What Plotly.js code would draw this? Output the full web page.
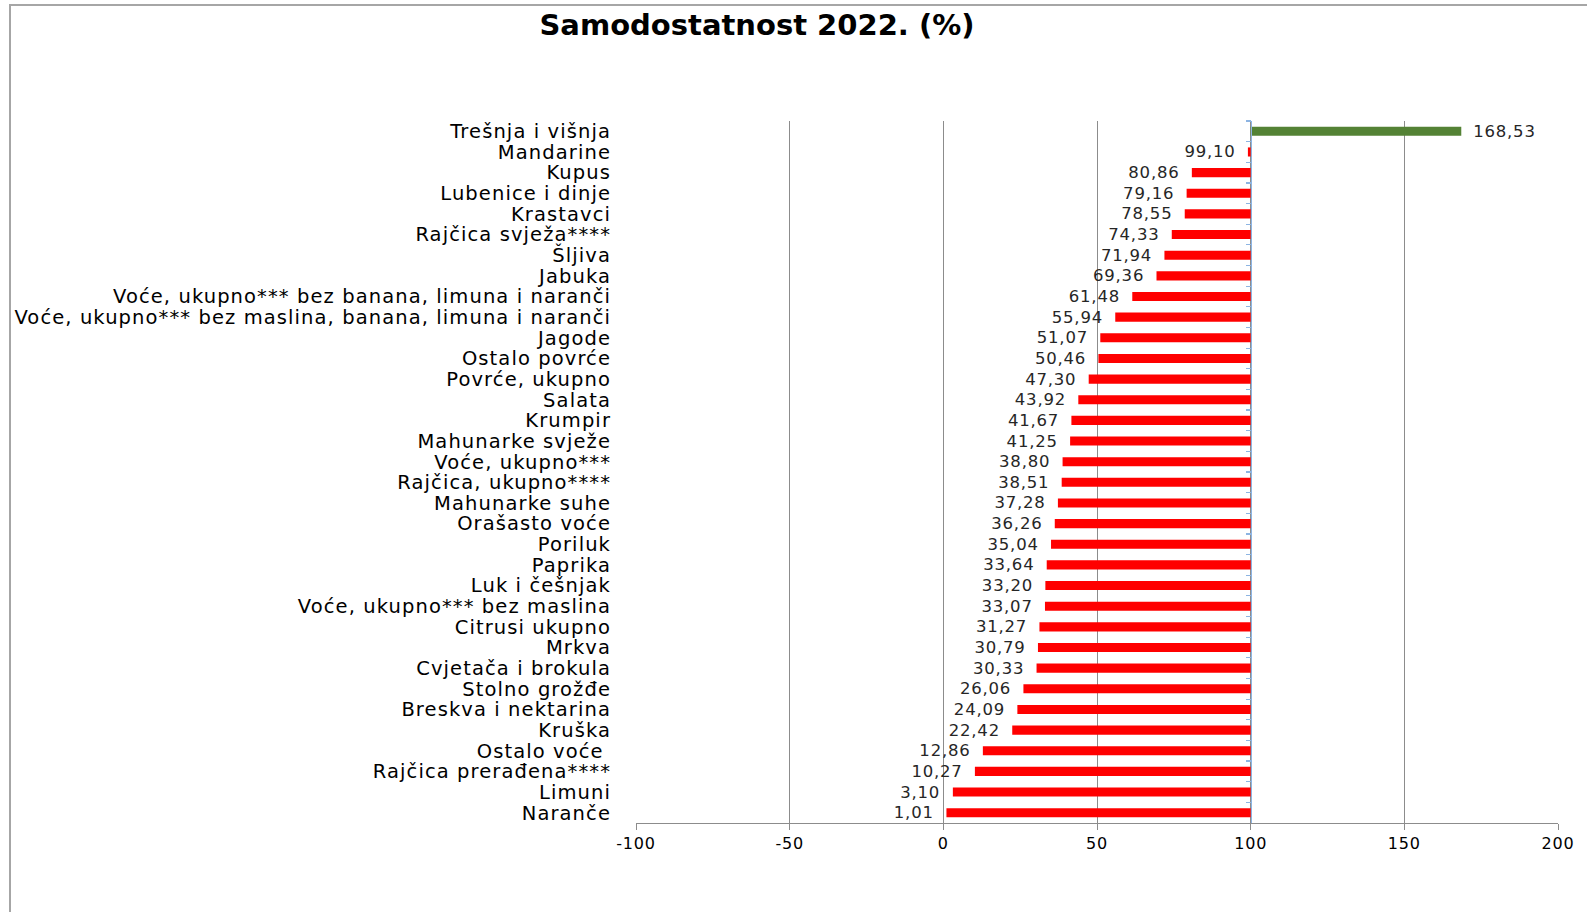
<!DOCTYPE html>
<html>
<head>
<meta charset="utf-8">
<script src="https://cdn.plot.ly/plotly-3.0.1.min.js"></script>
<style>
  html, body { margin: 0; padding: 0; background: #ffffff; }
  #frame { position: absolute; left: 9px; top: 4px; width: 1600px; height: 920px;
           border-left: 2px solid #a6a6a6; border-top: 2px solid #a6a6a6; }
  #chart { position: absolute; left: 0; top: 0; width: 1587px; height: 912px; }
  #chart .ytick text { letter-spacing: 1.1px; }
  #chart .bartext { letter-spacing: 0.8px; }
  #chart .xtick text { letter-spacing: 0.8px; }
</style>
</head>
<body>
<div id="frame"></div>
<div id="chart"></div>
<script>
// ---- data ----
const categories = [
  "Trešnja i višnja", "Mandarine", "Kupus", "Lubenice i dinje", "Krastavci",
  "Rajčica svježa****", "Šljiva", "Jabuka",
  "Voće, ukupno*** bez banana, limuna i naranči",
  "Voće, ukupno*** bez maslina, banana, limuna i naranči",
  "Jagode", "Ostalo povrće", "Povrće, ukupno", "Salata", "Krumpir",
  "Mahunarke svježe", "Voće, ukupno***", "Rajčica, ukupno****",
  "Mahunarke suhe", "Orašasto voće", "Poriluk", "Paprika", "Luk i češnjak",
  "Voće, ukupno*** bez maslina", "Citrusi ukupno", "Mrkva",
  "Cvjetača i brokula", "Stolno grožđe", "Breskva i nektarina", "Kruška",
  "Ostalo voće ", "Rajčica prerađena****", "Limuni", "Naranče"
];
const selfSufficiency = [
  168.53, 99.10, 80.86, 79.16, 78.55,
  74.33, 71.94, 69.36,
  61.48,
  55.94,
  51.07, 50.46, 47.30, 43.92, 41.67,
  41.25, 38.80, 38.51,
  37.28, 36.26, 35.04, 33.64, 33.20,
  33.07, 31.27, 30.79,
  30.33, 26.06, 24.09, 22.42,
  12.86, 10.27, 3.10, 1.01
];
const baseline = 100;
const xTicks = [-100, -50, 0, 50, 100, 150, 200];
const titleText = "Samodostatnost 2022. (%)";

// ---- chart ----
const FONT = "'DejaVu Sans', Verdana, sans-serif";
const xMin = -100, xMax = 200;
const n = categories.length;
const pad = "\u00a0\u00a0";
const fmt = v => {
  const s = v.toFixed(2).replace(".", ",");
  return v >= baseline ? pad + s : s + pad;
};

const barTrace = {
  type: "bar",
  orientation: "h",
  y: categories,
  x: selfSufficiency.map(v => v - baseline),
  base: baseline,
  width: 0.44,
  marker: {
    color: selfSufficiency.map(v => v >= baseline ? "#548235" : "#ff0000"),
    line: { width: 0 }
  },
  text: selfSufficiency.map(fmt),
  textposition: "outside",
  constraintext: "none",
  cliponaxis: false,
  textfont: { family: FONT, size: 16.5, color: "#262626" },
  hoverinfo: "skip",
  showlegend: false
};

const axisHelper = {
  type: "scatter",
  mode: "markers",
  y: categories,
  x: selfSufficiency,
  yaxis: "y2",
  marker: { opacity: 0 },
  hoverinfo: "skip",
  showlegend: false
};

const layout = {
  width: 1587,
  height: 912,
  paper_bgcolor: "rgba(0,0,0,0)",
  plot_bgcolor: "rgba(0,0,0,0)",
  margin: { l: 636, r: 28.5, t: 121, b: 89 },
  title: {
    text: "<b>" + titleText + "</b>",
    font: { family: FONT, size: 29, color: "#000000" },
    x: 757 / 1587, xref: "container", xanchor: "center",
    y: 1 - 25 / 912, yref: "container", yanchor: "middle"
  },
  font: { family: FONT, color: "#000000" },
  xaxis: {
    range: [xMin, xMax],
    tickvals: xTicks,
    ticktext: xTicks.map(String),
    showgrid: true,
    gridcolor: "#8c8c8c",
    gridwidth: 1,
    zeroline: false,
    showline: true,
    linecolor: "#8c8c8c",
    linewidth: 1,
    ticks: "outside",
    ticklen: 6,
    tickcolor: "#8c8c8c",
    tickfont: { family: FONT, size: 16, color: "#000000" },
    fixedrange: true
  },
  yaxis: {
    type: "category",
    categoryarray: categories,
    tickmode: "array",
    tickvals: categories,
    ticktext: categories,
    range: [n - 0.5, -0.5],
    showgrid: false,
    zeroline: false,
    showline: false,
    ticks: "",
    ticklabelstandoff: 24,
    tickfont: { family: FONT, size: 19.5, color: "#000000" },
    fixedrange: true
  },
  yaxis2: {
    type: "category",
    categoryarray: categories,
    range: [n - 0.5, -0.5],
    overlaying: "y",
    anchor: "free",
    position: (baseline - xMin) / (xMax - xMin),
    side: "left",
    showline: true,
    linecolor: "#8db4e2",
    linewidth: 1.5,
    ticks: "outside",
    tickson: "boundaries",
    ticklen: 5,
    tickcolor: "#8db4e2",
    tickwidth: 1.2,
    showticklabels: false,
    showgrid: false,
    zeroline: false,
    fixedrange: true
  }
};

Plotly.newPlot("chart", [barTrace, axisHelper], layout, { displayModeBar: false, staticPlot: true });
</script>
</body>
</html>
